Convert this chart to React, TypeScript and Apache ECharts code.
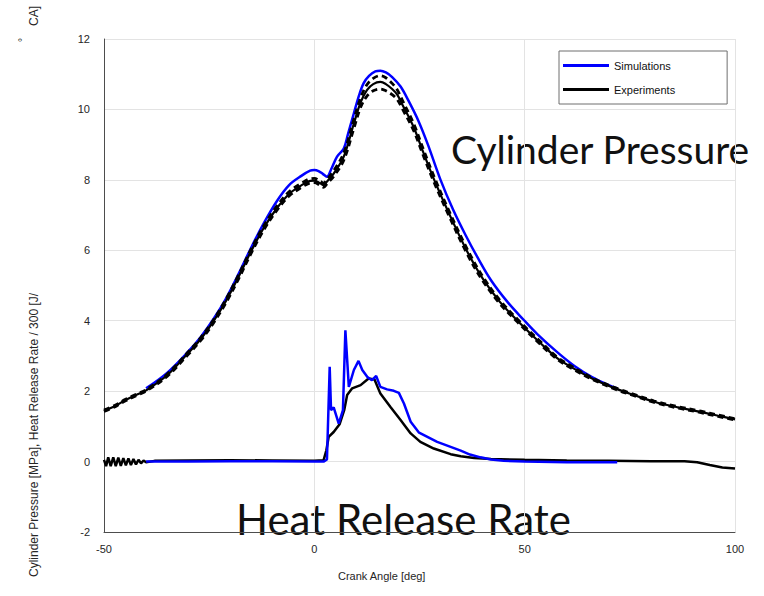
import React, { useEffect, useRef } from "react";
import * as echarts from "echarts";

// ---- data ----
const xTicks = [-50, 0, 50, 100];
const yTicks = [-2, 0, 2, 4, 6, 8, 10, 12];

const simPressure: number[][] = [
  [-40, 2.08], [-35, 2.52], [-30, 3.12], [-27, 3.54], [-24, 4.04], [-21, 4.63],
  [-18, 5.33], [-15, 6.08], [-12, 6.77], [-9, 7.38], [-6, 7.85], [-3, 8.12],
  [-1, 8.26], [0, 8.28], [1, 8.25], [2, 8.17], [3, 8.09], [4, 8.3], [5.4, 8.66],
  [7, 8.89], [8, 9.3], [9.4, 9.89], [10.5, 10.35], [11.7, 10.74], [13, 10.95],
  [14.5, 11.08], [15.7, 11.1], [17, 11.05], [18.5, 10.92], [20.5, 10.65],
  [22.5, 10.22], [24.8, 9.66], [27, 9.0], [30, 8.0], [33, 7.15], [36, 6.42],
  [38.7, 5.82], [42, 5.15], [46, 4.52], [49.8, 4.02], [53, 3.62], [57.8, 3.1],
  [62, 2.7], [66, 2.4], [70, 2.17], [72, 2.08],
];

const expPressure: number[][] = [
  [-50, 1.44], [-47, 1.6], [-45, 1.74], [-42, 1.91], [-40, 2.02], [-35, 2.45],
  [-30, 3.08], [-27, 3.48], [-24, 3.98], [-21, 4.56], [-18, 5.25], [-15, 5.98],
  [-12, 6.64], [-9, 7.18], [-6, 7.6], [-3, 7.85], [-1, 7.97], [0, 7.98],
  [1.4, 7.9], [2.2, 7.85], [3, 7.95], [4.6, 8.18], [7, 8.66], [9.4, 9.6],
  [11, 10.2], [12.5, 10.55], [14, 10.72], [15.7, 10.78], [17, 10.72],
  [18.5, 10.58], [19.7, 10.42], [21, 10.12], [23.6, 9.5], [26, 8.75],
  [28.5, 8.0], [32, 7.05], [36.4, 5.95], [40, 5.2], [44, 4.55], [48.3, 4.0],
  [53.8, 3.36], [57.8, 2.93], [61.7, 2.64], [66.5, 2.33], [72.1, 2.05],
  [76, 1.89], [80.8, 1.7], [86.4, 1.54], [91.9, 1.41], [96, 1.3], [100, 1.2],
];

const expPressureUpper: number[][] = [
  [-50, 1.46], [-47, 1.62], [-45, 1.76], [-42, 1.93], [-40, 2.04], [-35, 2.48],
  [-30, 3.11], [-27, 3.52], [-24, 4.02], [-21, 4.61], [-18, 5.3], [-15, 6.04],
  [-12, 6.7], [-9, 7.24], [-6, 7.66], [-3, 7.91], [-1, 8.03], [0, 8.04],
  [1.4, 7.96], [2.2, 7.91], [3, 8.01], [4.6, 8.26], [7, 8.76], [9.4, 9.72],
  [11, 10.33], [12.5, 10.7], [14, 10.88], [15.7, 10.96], [17, 10.9],
  [18.5, 10.74], [19.7, 10.56], [21, 10.24], [23.6, 9.6], [26, 8.84],
  [28.5, 8.08], [32, 7.12], [36.4, 6.02], [40, 5.26], [44, 4.6], [48.3, 4.04],
  [53.8, 3.4], [57.8, 2.96], [61.7, 2.67], [66.5, 2.35], [72.1, 2.07],
  [76, 1.91], [80.8, 1.72], [86.4, 1.56], [91.9, 1.43], [96, 1.32], [100, 1.22],
];

const expPressureLower: number[][] = [
  [-50, 1.42], [-47, 1.58], [-45, 1.72], [-42, 1.89], [-40, 2.0], [-35, 2.42],
  [-30, 3.04], [-27, 3.44], [-24, 3.93], [-21, 4.51], [-18, 5.19], [-15, 5.92],
  [-12, 6.58], [-9, 7.12], [-6, 7.54], [-3, 7.79], [-1, 7.91], [0, 7.92],
  [1.4, 7.84], [2.2, 7.79], [3, 7.89], [4.6, 8.1], [7, 8.56], [9.4, 9.46],
  [11, 10.06], [12.5, 10.38], [14, 10.53], [15.7, 10.58], [17, 10.53],
  [18.5, 10.42], [19.7, 10.28], [21, 10.0], [23.6, 9.4], [26, 8.66],
  [28.5, 7.92], [32, 6.98], [36.4, 5.88], [40, 5.14], [44, 4.5], [48.3, 3.96],
  [53.8, 3.32], [57.8, 2.9], [61.7, 2.61], [66.5, 2.31], [72.1, 2.03],
  [76, 1.87], [80.8, 1.68], [86.4, 1.52], [91.9, 1.39], [96, 1.28], [100, 1.18],
];

const simHRR: number[][] = [
  [-40, 0.0], [-30, 0.0], [-20, 0.01], [-10, 0.01], [0, 0.0], [2.2, 0.0],
  [3.0, 0.06], [3.65, 2.69], [3.97, 1.46], [4.6, 1.54], [5.8, 1.08],
  [6.8, 1.46], [7.38, 3.73], [8.2, 2.12], [9.4, 2.6], [10.5, 2.86],
  [11.4, 2.6], [12.7, 2.39], [13.7, 2.31], [14.7, 2.43], [15.7, 2.12],
  [17.3, 2.05], [18.9, 2.01], [20.1, 1.95], [21.3, 1.65], [22.9, 1.13],
  [24.9, 0.82], [29.2, 0.56], [34.8, 0.31], [37, 0.2], [39.5, 0.12],
  [42, 0.06], [45, 0.02], [50, 0.0], [60, -0.02], [72, -0.02],
];

const expHRR: number[][] = [
  [-50, 0.05], [-49.5, -0.13], [-49, 0.12], [-48.4, -0.13], [-47.8, 0.12],
  [-47.2, -0.13], [-46.6, 0.11], [-46, -0.12], [-45.4, 0.1], [-44.8, -0.11],
  [-44.2, 0.09], [-43.6, -0.1], [-43, 0.07], [-42.4, -0.08], [-41.8, 0.05],
  [-41.2, -0.05], [-40.6, 0.03], [-40, -0.02], [-38, 0.02], [-30, 0.03],
  [-20, 0.04], [-10, 0.03], [0, 0.02], [2.2, 0.04], [2.86, 0.32], [3.4, 0.7],
  [4.6, 0.84], [6.0, 1.06], [7.1, 1.46], [7.8, 1.89], [9.0, 2.08],
  [11.0, 2.17], [12.9, 2.36], [14.3, 2.33], [15.7, 1.93], [18.1, 1.55],
  [20.5, 1.18], [22.9, 0.8], [25.2, 0.56], [28.4, 0.37], [32.4, 0.21],
  [34.8, 0.15], [38, 0.1], [42, 0.07], [50, 0.05], [60, 0.03], [70, 0.02],
  [80, 0.01], [88, 0.01], [91, -0.02], [94, -0.1], [97, -0.17], [100, -0.2],
];

const legendNames = ["Simulations", "Experiments"];
const xAxisTitle = "Crank Angle [deg]";
const yAxisTitle = "Cylinder Pressure [MPa], Heat Release Rate / 300 [J/";
const yAxisTitleTail = "CA]";
const pressureLabel = "Cylinder Pressure";
const hrrLabel = "Heat Release Rate";

const BLUE = "#0000ff";
const BLACK = "#000000";
const FONT = "'Liberation Sans', Arial, sans-serif";
const BIG_FONT = "Lato, 'DejaVu Sans', sans-serif";

export default function App() {
  const ref = useRef<HTMLDivElement>(null);

  useEffect(() => {
    document.body.style.margin = "0";
    if (!ref.current) return;
    const chart = echarts.init(ref.current, undefined, { renderer: "svg" });

    const lineBase = {
      type: "line" as const,
      showSymbol: false,
      symbol: "none",
      animation: false,
    };

    chart.setOption({
      animation: false,
      backgroundColor: "#ffffff",
      grid: { left: 104, right: 29, top: 39, bottom: 64, containLabel: false },
      xAxis: {
        type: "value",
        min: xTicks[0],
        max: xTicks[xTicks.length - 1],
        interval: 50,
        axisLine: { show: true, onZero: false, lineStyle: { color: "#4d4d4d", width: 1 } },
        axisTick: { show: false },
        axisLabel: { color: "#262626", fontSize: 11, fontFamily: FONT, margin: 11 },
        splitLine: { show: true, lineStyle: { color: "#e3e3e3", width: 1 } },
      },
      yAxis: {
        type: "value",
        min: yTicks[0],
        max: yTicks[yTicks.length - 1],
        interval: 2,
        axisLine: { show: true, onZero: false, lineStyle: { color: "#4d4d4d", width: 1 } },
        axisTick: { show: false },
        axisLabel: { color: "#262626", fontSize: 11, fontFamily: FONT, margin: 14 },
        splitLine: { show: true, lineStyle: { color: "#e3e3e3", width: 1 } },
      },
      legend: {
        data: legendNames,
        orient: "vertical",
        left: 559,
        top: 51,
        backgroundColor: "#ffffff",
        borderColor: "#6e6e6e",
        borderWidth: 1,
        borderRadius: 0,
        padding: [9, 52, 9, 4],
        itemGap: 13,
        itemWidth: 46,
        itemHeight: 3,
        icon: "rect",
        textStyle: {
          color: "#111111",
          fontSize: 11,
          fontFamily: FONT,
          padding: [0, 0, 7, 0],
        },
      },
      graphic: [
        {
          type: "text",
          left: 451,
          top: 129,
          style: {
            text: pressureLabel,
            fontSize: 39,
            fontFamily: BIG_FONT,
            fill: "#111111",
          },
        },
        {
          type: "text",
          left: 236,
          top: 498,
          style: {
            text: hrrLabel,
            fontSize: 42,
            fontFamily: BIG_FONT,
            fill: "#111111",
          },
        },
        {
          type: "text",
          left: "center",
          top: 570,
          style: {
            text: xAxisTitle,
            fontSize: 11,
            fontFamily: FONT,
            fill: "#262626",
          },
        },
        {
          type: "text",
          x: 34,
          y: 577,
          rotation: Math.PI / 2,
          style: {
            text: yAxisTitle,
            fontSize: 12,
            fontFamily: FONT,
            fill: "#262626",
            textAlign: "left",
            textVerticalAlign: "middle",
          },
        },
        {
          type: "text",
          x: 34,
          y: 26,
          rotation: Math.PI / 2,
          style: {
            text: yAxisTitleTail,
            fontSize: 12,
            fontFamily: FONT,
            fill: "#262626",
            textAlign: "left",
            textVerticalAlign: "middle",
          },
        },
        {
          type: "text",
          x: 22,
          y: 40,
          rotation: Math.PI / 2,
          style: {
            text: "°",
            fontSize: 10,
            fontFamily: FONT,
            fill: "#262626",
            textAlign: "center",
            textVerticalAlign: "middle",
          },
        },
      ],
      series: [
        {
          ...lineBase,
          name: "Simulations",
          data: simPressure,
          smooth: 0.35,
          lineStyle: { color: BLUE, width: 2.5 },
          itemStyle: { color: BLUE },
          z: 2,
        },
        {
          ...lineBase,
          name: "Experiments",
          data: expPressure,
          smooth: 0.35,
          lineStyle: { color: BLACK, width: 2.2 },
          itemStyle: { color: BLACK },
          z: 3,
        },
        {
          ...lineBase,
          name: "Exp. upper",
          data: expPressureUpper,
          smooth: 0.35,
          lineStyle: { color: BLACK, width: 2.8, type: [6, 4] },
          itemStyle: { color: BLACK },
          z: 4,
        },
        {
          ...lineBase,
          name: "Exp. lower",
          data: expPressureLower,
          smooth: 0.35,
          lineStyle: { color: BLACK, width: 2.8, type: [6, 4] },
          itemStyle: { color: BLACK },
          z: 4,
        },
        {
          ...lineBase,
          name: "Experiments",
          data: expHRR,
          lineStyle: { color: BLACK, width: 2.5 },
          itemStyle: { color: BLACK },
          z: 5,
        },
        {
          ...lineBase,
          name: "Simulations",
          data: simHRR,
          lineStyle: { color: BLUE, width: 2.5 },
          itemStyle: { color: BLUE },
          z: 6,
        },
      ],
    });

    return () => chart.dispose();
  }, []);

  return <div ref={ref} style={{ width: 764, height: 596 }} />;
}
